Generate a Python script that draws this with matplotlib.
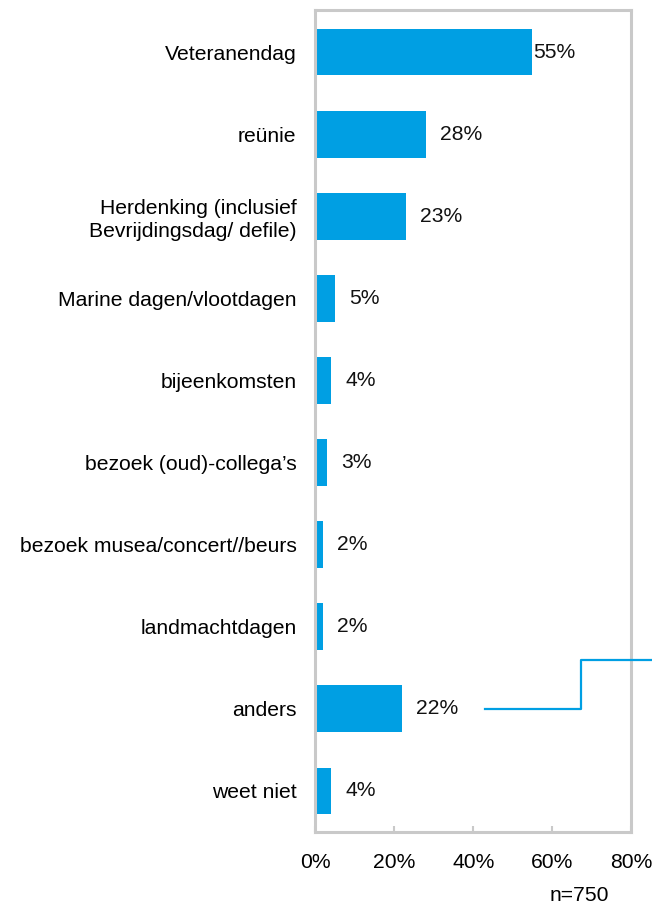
import matplotlib.pyplot as plt
from matplotlib.ticker import FuncFormatter

plt.rcParams['font.family'] = ['Liberation Sans', 'DejaVu Sans']

categories = ['Veteranendag', 'reünie', 'Herdenking (inclusief\nBevrijdingsdag/ defile)',
              'Marine dagen/vlootdagen', 'bijeenkomsten', 'bezoek (oud)-collega\u2019s',
              'bezoek musea/concert//beurs', 'landmachtdagen', 'anders', 'weet niet']
values = [55, 28, 23, 5, 4, 3, 2, 2, 22, 4]
labels = ['55%', '28%', '23%', '5%', '4%', '3%', '2%', '2%', '22%', '4%']
xticks = [0, 20, 40, 60, 80]

blue = '#009FE3'
grey = '#C9C9C9'
fs = 15.2

fig = plt.figure(figsize=(6.52, 9.05), dpi=100)
ax = fig.add_axes([0.4835, 0.0807, 0.4845, 0.908])

ypos = list(range(len(categories)))
ax.barh(ypos, values, height=0.57, color=blue, zorder=2)

# value labels just past each bar end
for y, v, lab in zip(ypos, values, labels):
    off = 1 if v > 50 else 14
    ax.annotate(lab, (v, y), xytext=(off, 0), textcoords='offset pixels',
                ha='left', va='center', fontsize=fs, color='#111111')

ax.set_xlim(0, 80)
ax.set_ylim(9.5, -0.51)
ax.set_yticks(ypos)
ax.set_yticklabels(categories, fontsize=fs, linespacing=1.25)
ax.set_xticks(xticks)
ax.xaxis.set_major_formatter(FuncFormatter(lambda v, p: f'{v:.0f}%'))
ax.tick_params(axis='y', length=0, pad=13.5)
ax.tick_params(axis='x', direction='in', length=4.5, width=1.5, color=grey,
               labelsize=fs, pad=15)
for s in ax.spines.values():
    s.set_color(grey)
    s.set_linewidth(2.2)

# connector from the "anders" label out to the right
ax.plot([43, 67.3, 67.3, 90], [8.0, 8.0, 7.4, 7.4], color=blue, lw=1.6,
        clip_on=False, zorder=3)

fig.text(0.888, 0.011, 'n=750', ha='center', va='center', fontsize=fs)

fig.savefig('out.png', dpi=100)
